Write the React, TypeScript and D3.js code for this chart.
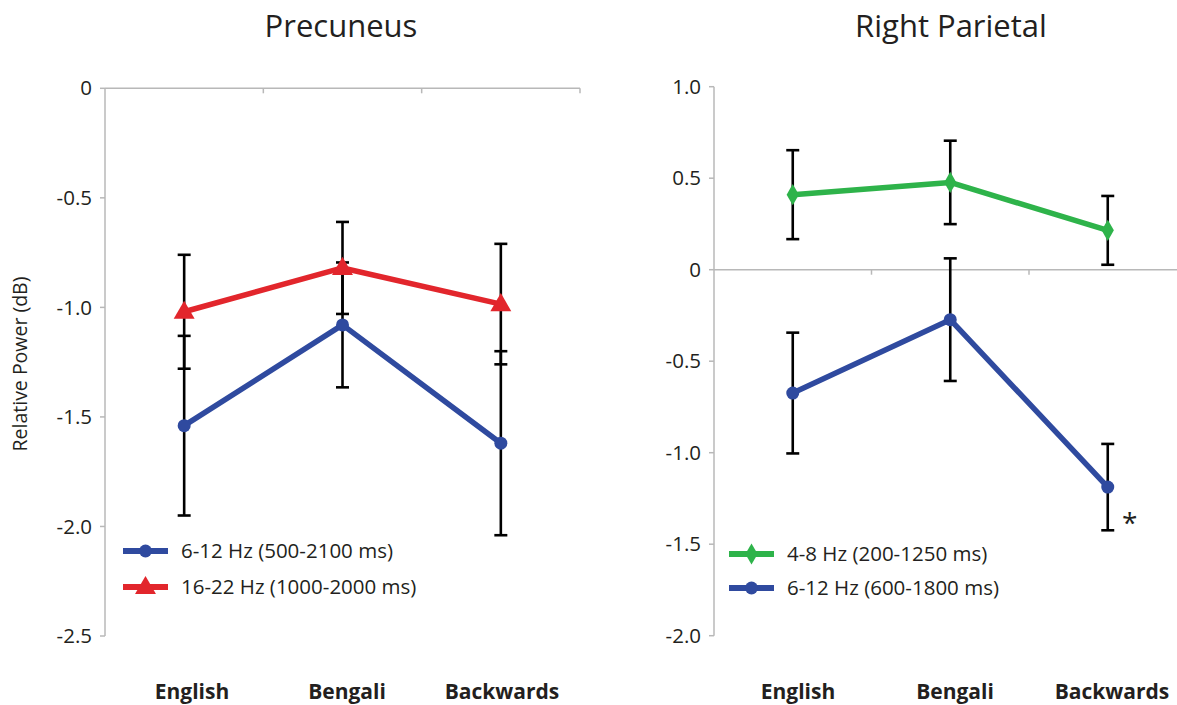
import React from "react";
import * as d3 from "d3";

const categories = ["English", "Bengali", "Backwards"];

// Precuneus
const precBlueLabel = "6-12 Hz (500-2100 ms)";
const precBlue = [-1.54, -1.08, -1.62];
const precBlueErr = [0.41, 0.285, 0.42];
const precRedLabel = "16-22 Hz (1000-2000 ms)";
const precRed = [-1.02, -0.82, -0.985];
const precRedErr = [0.26, 0.21, 0.275];
const precTicks = [0, -0.5, -1.0, -1.5, -2.0, -2.5];

// Right Parietal
const parGreenLabel = "4-8 Hz (200-1250 ms)";
const parGreen = [0.41, 0.477, 0.215];
const parGreenErr = [0.243, 0.228, 0.188];
const parBlueLabel = "6-12 Hz (600-1800 ms)";
const parBlue = [-0.674, -0.273, -1.188];
const parBlueErr = [0.33, 0.335, 0.236];
const parTicks = [1.0, 0.5, 0, -0.5, -1.0, -1.5, -2.0];

const BLUE = "#2f4a9f";
const RED = "#e2262c";
const GREEN = "#2eb34a";
const AXIS = "#b8b8b8";
const FONT = "'Open Sans', sans-serif";

const fmt = (v: number) => (v === 0 ? "0" : d3.format(".1f")(v).replace("\u2212", "-"));

type Series = { values: number[]; errs: number[]; color: string; marker: string; label: string };

function Marker({ kind, x, y, color }: { kind: string; x: number; y: number; color: string }) {
  if (kind === "circle") return <circle cx={x} cy={y} r={6.5} fill={color} />;
  if (kind === "triangle") {
    const p = d3.symbol().type(d3.symbolTriangle).size(190)();
    return <path d={p || ""} transform={`translate(${x},${y + 1})`} fill={color} />;
  }
  const p = d3.symbol().type(d3.symbolDiamond).size(130)();
  return <path d={p || ""} transform={`translate(${x},${y})`} fill={color} />;
}

function Panel({
  title,
  titleX,
  xRange,
  yDomain,
  yRange,
  ticks,
  series,
  labelRange,
  legendX,
  legendY,
  axisEnd,
  star,
}: {
  title: string;
  titleX: number;
  xRange: [number, number];
  yDomain: [number, number];
  yRange: [number, number];
  ticks: number[];
  series: Series[];
  labelRange: [number, number];
  legendX: number;
  legendY: number[];
  axisEnd: number;
  star?: number;
}) {
  const x = d3.scaleBand<string>().domain(categories).range(xRange).padding(0);
  const y = d3.scaleLinear().domain(yDomain).range(yRange);
  const lx = d3.scalePoint<string>().domain(categories).range(labelRange);
  const cx = (c: string) => (x(c) || 0) + x.bandwidth() / 2;
  const line = d3
    .line<number>()
    .x((_, i) => cx(categories[i]))
    .y((d) => y(d));
  const x0 = xRange[0];
  const boundaries = categories.map((c) => (x(c) || 0) + x.bandwidth()).slice(0, -1);
  const capW = 6.5;
  return (
    <g>
      <text x={titleX} y={37} textAnchor="middle" fontSize={31} fill="#231f20" fontFamily={FONT}>
        {title}
      </text>
      {/* y axis */}
      <line x1={x0} x2={x0} y1={y(yDomain[1])} y2={y(yDomain[0])} stroke={AXIS} strokeWidth={1.5} />
      {ticks.map((t) => (
        <g key={t}>
          <line x1={x0 - 5} x2={x0} y1={y(t)} y2={y(t)} stroke={AXIS} strokeWidth={1.5} />
          <text
            x={x0 - 13}
            y={y(t)}
            dy="0.35em"
            textAnchor="end"
            fontSize={20.5}
            fill="#231f20"
            fontFamily={FONT}
          >
            {fmt(t)}
          </text>
        </g>
      ))}
      {/* horizontal axis at 0 */}
      <line x1={x0} x2={axisEnd} y1={y(0)} y2={y(0)} stroke={AXIS} strokeWidth={1.5} />
      {boundaries.concat(axisEnd < 1177 ? [axisEnd] : []).map((b, i) => (
        <line key={i} x1={b} x2={b} y1={y(0)} y2={y(0) + 5} stroke={AXIS} strokeWidth={1.5} />
      ))}
      {/* error bars */}
      {series.map((s, si) =>
        s.values.map((v, i) => {
          const c = cx(categories[i]);
          const top = y(v + s.errs[i]);
          const bot = y(v - s.errs[i]);
          return (
            <g key={`${si}-${i}`} stroke="#000" strokeWidth={2.6}>
              <line x1={c} x2={c} y1={top} y2={bot} />
              <line x1={c - capW} x2={c + capW} y1={top} y2={top} />
              <line x1={c - capW} x2={c + capW} y1={bot} y2={bot} />
            </g>
          );
        })
      )}
      {/* lines */}
      {series.map((s, si) => (
        <g key={si}>
          <path d={line(s.values) || ""} fill="none" stroke={s.color} strokeWidth={5.5} strokeLinejoin="round" />
          {s.values.map((v, i) => (
            <Marker key={i} kind={s.marker} x={cx(categories[i])} y={y(v)} color={s.color} />
          ))}
        </g>
      ))}
      {star !== undefined && (
        <text
          x={cx(categories[star]) + 22}
          y={y(series[series.length - 1].values[star] - series[series.length - 1].errs[star]) + 3}
          fontSize={28}
          fill="#231f20"
          fontFamily={FONT}
          textAnchor="middle"
        >
          *
        </text>
      )}
      {/* legend */}
      {series.map((s, si) => (
        <g key={si}>
          <line
            x1={legendX}
            x2={legendX + 45}
            y1={legendY[si]}
            y2={legendY[si]}
            stroke={s.color}
            strokeWidth={6}
          />
          <Marker kind={s.marker} x={legendX + 22.5} y={legendY[si]} color={s.color} />
          <text
            x={legendX + 58}
            y={legendY[si]}
            dy="0.35em"
            fontSize={20.5}
            fill="#231f20"
            fontFamily={FONT}
          >
            {s.label}
          </text>
        </g>
      ))}
      {/* category labels */}
      {categories.map((c) => (
        <text
          key={c}
          x={lx(c)}
          y={699}
          textAnchor="middle"
          fontSize={21}
          fontWeight={700}
          fill="#231f20"
          fontFamily={FONT}
        >
          {c}
        </text>
      ))}
    </g>
  );
}

export default function App() {
  return (
    <svg
      width={1177}
      height={705}
      style={{ position: "absolute", left: 0, top: 0, background: "#fff" }}
    >
      <rect width={1177} height={705} fill="#fff" />
      <text
        transform="translate(27,364) rotate(-90)"
        textAnchor="middle"
        fontSize={19.5}
        fill="#231f20"
        fontFamily={FONT}
      >
        Relative Power (dB)
      </text>
      <Panel
        title="Precuneus"
        titleX={341}
        xRange={[105, 580]}
        yDomain={[-2.5, 0]}
        yRange={[636, 88.3]}
        ticks={precTicks}
        series={[
          { values: precBlue, errs: precBlueErr, color: BLUE, marker: "circle", label: precBlueLabel },
          { values: precRed, errs: precRedErr, color: RED, marker: "triangle", label: precRedLabel },
        ]}
        labelRange={[192, 502]}
        legendX={123}
        legendY={[551, 587]}
        axisEnd={580}
      />
      <Panel
        title="Right Parietal"
        titleX={951}
        xRange={[714, 1186.5]}
        yDomain={[-2.0, 1.0]}
        yRange={[635.7, 86.7]}
        ticks={parTicks}
        series={[
          { values: parGreen, errs: parGreenErr, color: GREEN, marker: "diamond", label: parGreenLabel },
          { values: parBlue, errs: parBlueErr, color: BLUE, marker: "circle", label: parBlueLabel },
        ]}
        labelRange={[798, 1112]}
        legendX={729}
        legendY={[554, 588]}
        axisEnd={1186.5}
        star={2}
      />
    </svg>
  );
}
